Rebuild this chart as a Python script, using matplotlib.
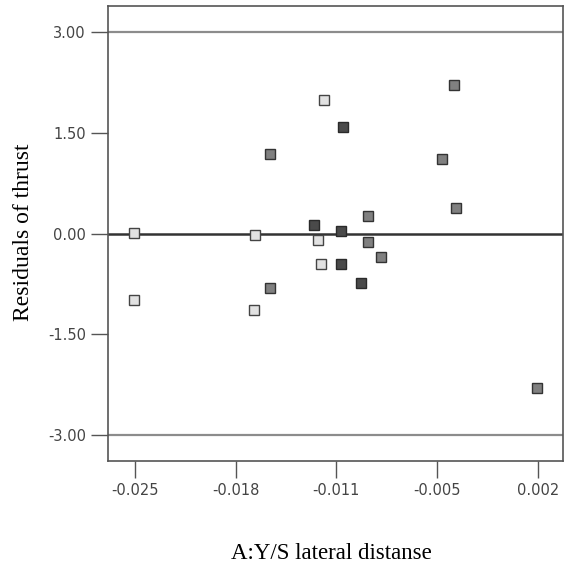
import matplotlib
matplotlib.use("Agg")
import matplotlib.pyplot as plt
import numpy as np

# residuals by run, grouped by marker shade
light_x = [-0.01231, -0.0251, -0.01693, -0.01273, -0.01251, -0.0251, -0.01702]
light_y = [1.99, 0.01, -0.025, -0.10, -0.46, -0.99, -1.13]
mid_x = [-0.00364, -0.01597, -0.00444, -0.00350, -0.00938, -0.00938, -0.00851, -0.01597, 0.00197]
mid_y = [2.20, 1.18, 1.11, 0.38, 0.26, -0.13, -0.35, -0.81, -2.29]
dark_x = [-0.01104, -0.01302, -0.01121, -0.01121, -0.00985]
dark_y = [1.58, 0.12, 0.035, -0.45, -0.74]

xticks = [-0.025, -0.01825, -0.0115, -0.00475, 0.002]
xticklabels = ['-0.025', '-0.018', '-0.011', '-0.005', '0.002']
yticks = [-3.0, -1.5, 0.0, 1.5, 3.0]
limits = [-3.0, 3.0]

fig = plt.figure(figsize=(5.64, 5.66), dpi=100)
ax = fig.add_axes([108/564, 1-461/566, 455/564, 455/566])
ax.set_xlim(-0.02681, 0.0037)
ax.set_ylim(-3.38, 3.38)

for v in limits:
    ax.axhline(v, color='#8c8c8c', lw=1.6, zorder=1)
ax.axhline(0, color='#333333', lw=1.8, zorder=1)

ms = 6.5
ax.plot(light_x, light_y, 's', ms=ms, mfc='#e2e2e2', mec='#444444', mew=1.0, zorder=3)
ax.plot(mid_x, mid_y, 's', ms=ms, mfc='#808080', mec='#333333', mew=1.0, zorder=3)
ax.plot(dark_x, dark_y, 's', ms=ms, mfc='#4a4a4a', mec='#2a2a2a', mew=1.0, zorder=3)

ax.set_xticks(xticks)
ax.set_xticklabels(xticklabels)
ax.set_yticks(yticks)
ax.set_yticklabels(['%.2f' % t for t in yticks])
ax.tick_params(direction='out', length=12, width=1, color='#555555',
               labelsize=10.5, labelcolor='#444444', pad=4)
for s in ax.spines.values():
    s.set_color('#555555')
    s.set_linewidth(1.2)

fig.text(331/564, 1-559/566, 'A:Y/S lateral distanse', family='Liberation Serif',
         fontsize=16.5, ha='center', va='baseline')
fig.text(24/564, 1-232/566, 'Residuals of thrust', family='Liberation Serif',
         fontsize=17, ha='center', va='center', rotation=90)

fig.savefig('out.png', dpi=100)
